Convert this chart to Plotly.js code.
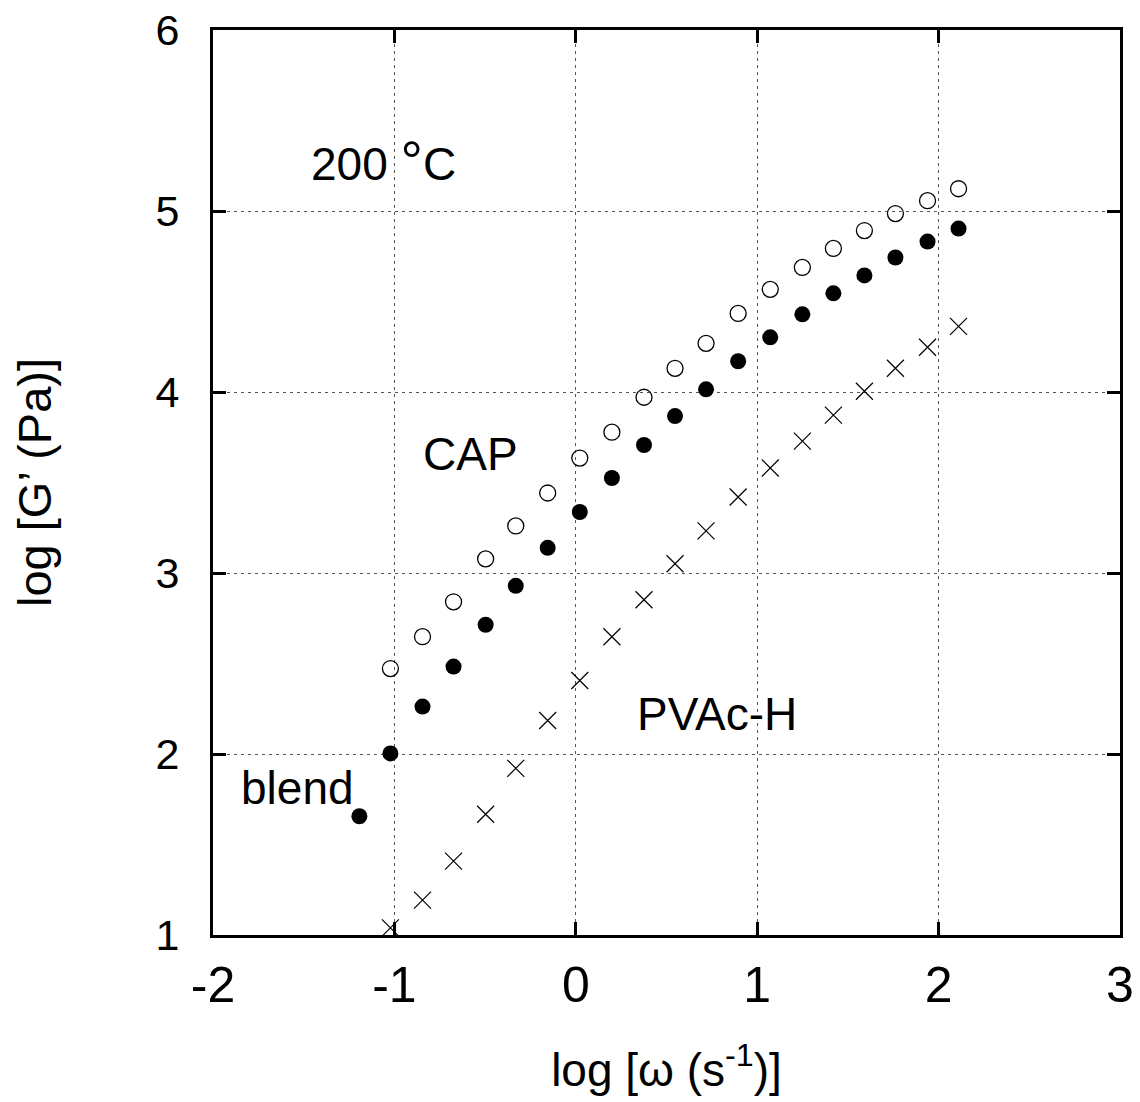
<!DOCTYPE html>
<html>
<head>
<meta charset="utf-8">
<script src="https://cdn.plot.ly/plotly-3.0.1.min.js"></script>
<style>html,body{margin:0;padding:0;background:#fff;}#chart{width:1140px;height:1102px;}</style>
</head>
<body>
<div id="chart"></div>
<script>
// log omega (s^-1) values
const capX = [-1.022,-0.845,-0.674,-0.497,-0.331,-0.155,0.022,0.199,0.376,0.547,0.718,0.895,1.072,1.249,1.420,1.591,1.762,1.939,2.110];
const capY = [2.472,2.648,2.841,3.078,3.260,3.442,3.635,3.778,3.971,4.131,4.269,4.434,4.567,4.688,4.793,4.892,4.986,5.057,5.123];

const blendX = [-1.193,-1.022,-0.845,-0.674,-0.497,-0.331,-0.155,0.022,0.199,0.376,0.547,0.718,0.895,1.072,1.249,1.420,1.591,1.762,1.939,2.110];
const blendY = [1.656,2.003,2.262,2.483,2.714,2.929,3.139,3.337,3.525,3.707,3.867,4.015,4.170,4.302,4.429,4.545,4.644,4.743,4.831,4.903];

const pvacX = [-1.022,-0.845,-0.674,-0.497,-0.331,-0.155,0.022,0.199,0.376,0.547,0.718,0.895,1.072,1.249,1.420,1.591,1.762,1.939,2.110];
const pvacY = [1.039,1.193,1.408,1.667,1.921,2.185,2.406,2.648,2.852,3.051,3.233,3.420,3.580,3.729,3.872,4.004,4.131,4.247,4.363];

const xTickVals = [-2,-1,0,1,2,3];
const yTickVals = [1,2,3,4,5,6];

const traces = [
  {x: capX, y: capY, type: 'scatter', mode: 'markers', name: 'CAP', cliponaxis: false,
   marker: {symbol: 'circle-open', size: 16, color: '#000', line: {width: 1.3, color: '#000'}}},
  {x: blendX, y: blendY, type: 'scatter', mode: 'markers', name: 'blend', cliponaxis: false,
   marker: {symbol: 'circle', size: 16, color: '#000', line: {width: 0}}},
  {x: pvacX, y: pvacY, type: 'scatter', mode: 'markers', name: 'PVAc-H', cliponaxis: false,
   marker: {symbol: 'x-thin-open', size: 17, color: '#000', line: {width: 1.2, color: '#000'}}}
];

const font = 'Liberation Sans, Arial, Helvetica, sans-serif';
const annFont = {family: font, size: 46, color: '#000'};

const layout = {
  width: 1140, height: 1102,
  margin: {l: 213, r: 20, t: 30, b: 167},
  paper_bgcolor: '#fff', plot_bgcolor: '#fff',
  showlegend: false,
  font: {family: font, color: '#000'},
  xaxis: {
    range: [-2, 3], tickvals: xTickVals, ticktext: xTickVals.map(String),
    showline: true, linewidth: 3, linecolor: '#000', mirror: 'ticks',
    ticks: 'inside', ticklen: 13, tickwidth: 3, tickcolor: '#000',
    showgrid: true, gridcolor: '#555', gridwidth: 1, griddash: '3px,4px',
    zeroline: false, tickfont: {family: font, size: 50, color: '#000'},
    ticklabelstandoff: 4,
    title: {text: 'log [ω (s<sup>-1</sup>)]', font: {family: font, size: 46, color: '#000'}, standoff: 42}
  },
  yaxis: {
    range: [1, 6], tickvals: yTickVals, ticktext: yTickVals.map(String),
    showline: true, linewidth: 3, linecolor: '#000', mirror: 'ticks',
    ticks: 'inside', ticklen: 13, tickwidth: 3, tickcolor: '#000',
    showgrid: true, gridcolor: '#555', gridwidth: 1, griddash: '3px,4px',
    zeroline: false, tickfont: {family: font, size: 43, color: '#000'},
    ticklabelstandoff: 22,
    title: {text: 'log [G’ (Pa)]', font: {family: font, size: 47, color: '#000'}, standoff: 90}
  },
  annotations: [
    {x: -1.058, y: 5.28, text: '200 <span style="font-size:56px">°</span>C', showarrow: false, font: annFont},
    {x: -0.58, y: 3.66, text: 'CAP', showarrow: false, font: annFont},
    {x: 0.779, y: 2.22, text: 'PVAc-H', showarrow: false, font: annFont},
    {x: -1.536, y: 1.81, text: 'blend', showarrow: false, font: annFont}
  ]
};

Plotly.newPlot('chart', traces, layout, {displayModeBar: false, staticPlot: true});
</script>
</body>
</html>
